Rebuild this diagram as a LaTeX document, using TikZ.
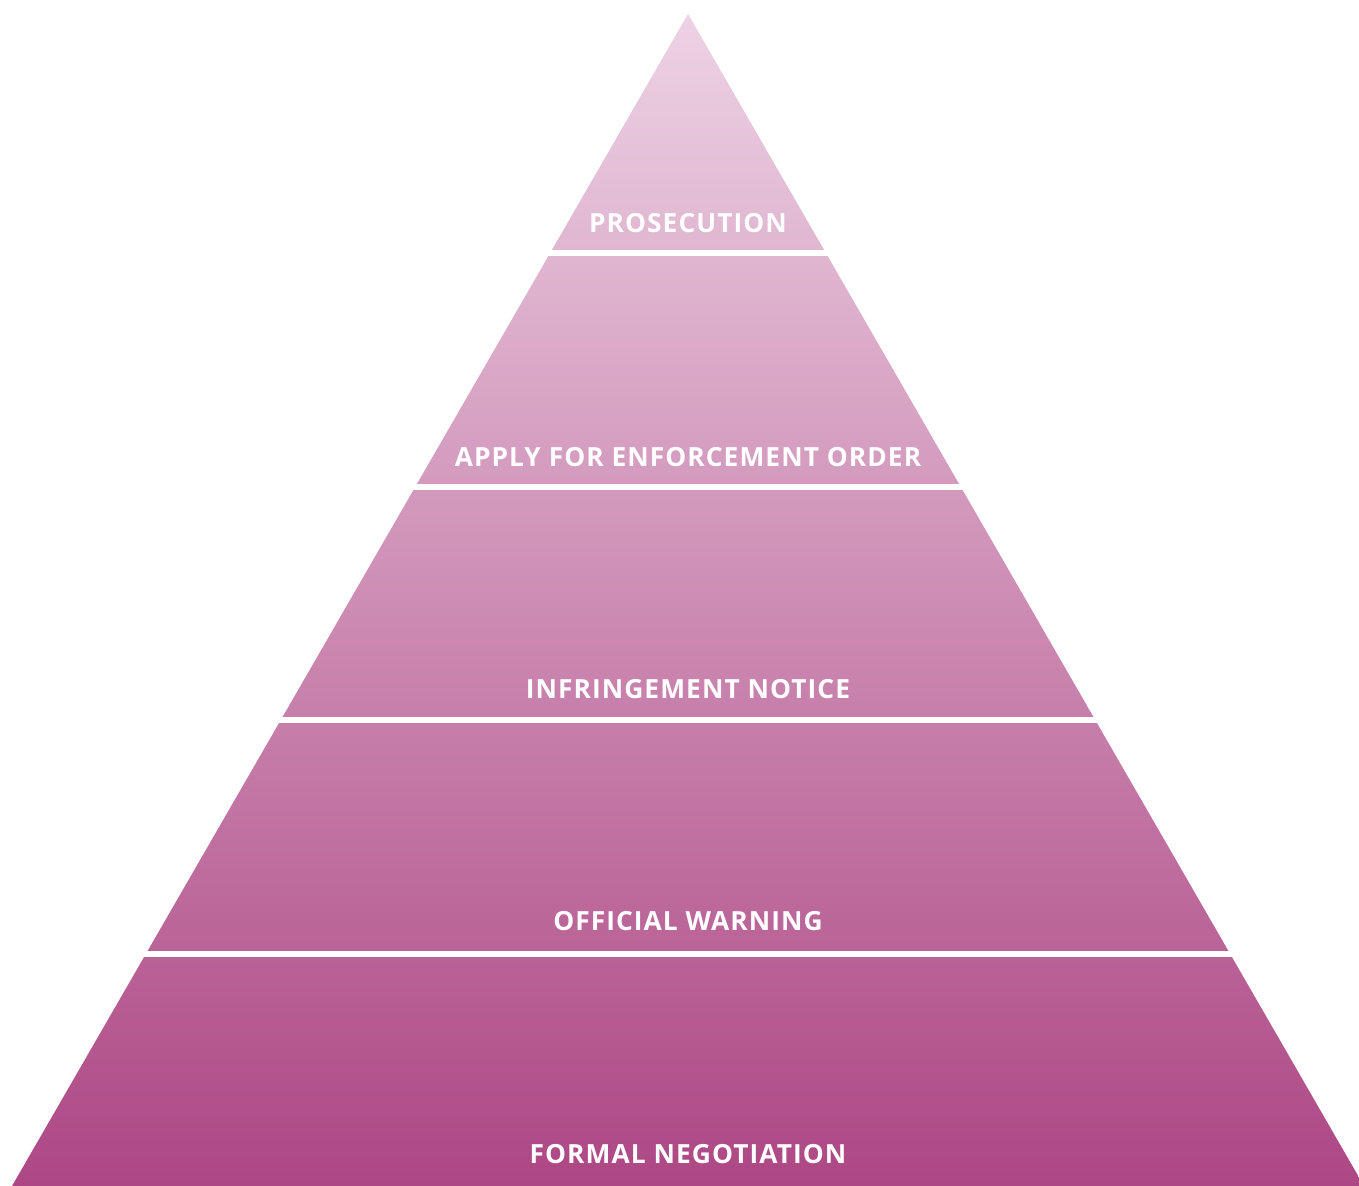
\documentclass[tikz,border=0pt]{standalone}
\usepackage{fontspec}
\usepackage{tikz}
\setmainfont{Open Sans}
\newfontfamily\tierfont[LetterSpace=4]{Open Sans}
\definecolor{pyrtop}{HTML}{EDD2E4}
\definecolor{pyrbottom}{HTML}{AD4784}

\begin{document}
\begin{tikzpicture}[x=0.02cm, y=-0.02cm,
				line join=round,
				every node/.style = {inner sep=0pt, text=white,
					font=\tierfont\bfseries\fontsize{15}{17}\selectfont}
				]
				\useasboundingbox (0,0) rectangle (1359,1186);
				\clip (0,0) rectangle (1359,1186);
				% the pyramid, one shaded triangle
				\shade[top color=pyrtop, bottom color=pyrbottom]
				(688,14) -- (1364,1186) -- (12,1186) -- cycle;
				% white gaps between the tiers
				\foreach \y in {253,487,720,954}
				\draw[white, line width=0.12cm] (0,\y) -- (1359,\y);
				\node (prosecution) at (688,223.5) {PROSECUTION};
				\node (enforcement) at (688,457.5) {APPLY FOR ENFORCEMENT ORDER};
				\node (infringement) at (688,689.5) {INFRINGEMENT NOTICE};
				\node (warning) at (688,921.5) {OFFICIAL WARNING};
				\node (negotiation) at (688,1154.5) {FORMAL NEGOTIATION};
				\end{tikzpicture}
\end{document}
